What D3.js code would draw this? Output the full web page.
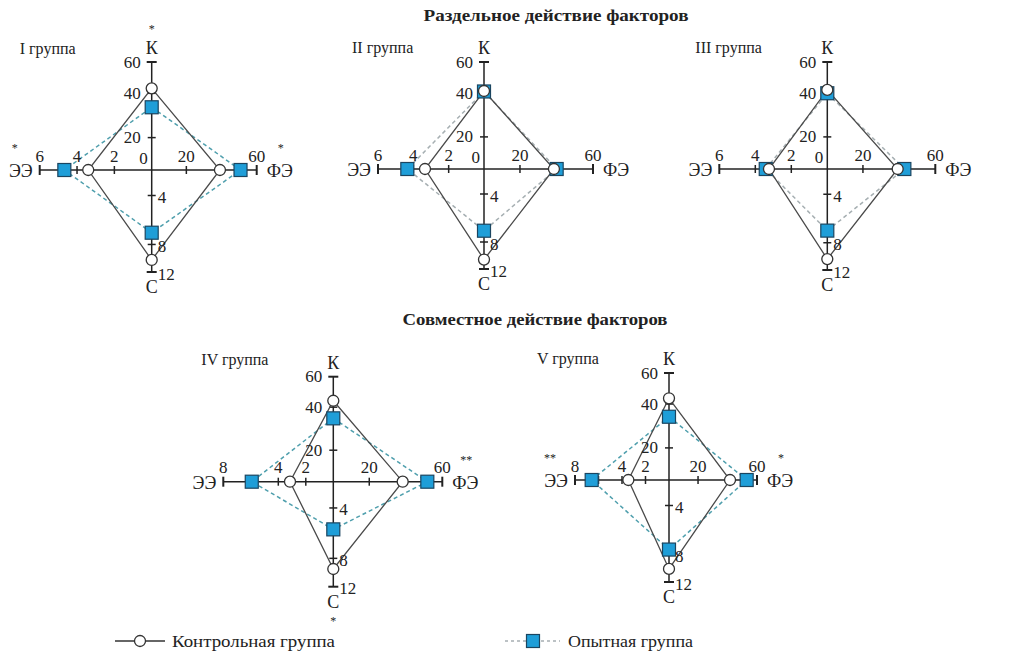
<!DOCTYPE html>
<html>
<head>
<meta charset="utf-8">
<script src="https://cdn.jsdelivr.net/npm/d3@7"></script>
<style>
  body { margin: 0; background: #fff; }
  svg text { font-family: "Liberation Serif", "DejaVu Serif", "Times New Roman", serif; fill: #222; }
</style>
</head>
<body>
<svg id="chart" width="1016" height="664" font-family="Liberation Serif, DejaVu Serif, serif"></svg>
<script>
// values, order of each row: К, ФЭ, С, ЭЭ
var groups = ["I группа", "II группа", "III группа", "IV группа", "V группа"];
var axisNames = ["К", "ФЭ", "С", "ЭЭ"];
var controlValues = [
  [43.2, 39.1, 10.25, 3.4],
  [41.3, 38.6, 10.6, 3.34],
  [42.0, 39.2, 10.4, 3.24],
  [44.2, 38.3, 9.5, 3.15],
  [43.7, 41.7, 10.1, 3.46]
];
var expValues = [
  [33.7, 50.8, 7.04, 4.68],
  [41.0, 40.1, 7.06, 4.34],
  [39.9, 42.9, 7.0, 3.42],
  [34.8, 51.8, 5.7, 5.93],
  [34.2, 53.0, 7.6, 6.58]
];
var eeMax = [6, 6, 6, 8, 8];
var stars = [
  ["*", "*", "", "*"],
  ["", "", "", ""],
  ["", "", "", ""],
  ["", "**", "*", ""],
  ["", "*", "", "**"]
];
var kTicks = [20, 40, 60];
var feTicks = [20, 40, 60];
var feLabels = [20, 60];
var sTicks = [4, 8, 12];
var eeTicks6 = [2, 4, 6];
var eeTicks8 = [2, 4, 6, 8];
var eeLabels8 = [2, 4, 8];
var titles = ["Раздельное действие факторов", "Совместное действие факторов"];
var legendNames = ["Контрольная группа", "Опытная группа"];

// where each little chart sits, arm lengths: top, right, bottom, left
var layout = [
  {cx: 151.7, cy: 170, len: [108, 105, 102, 112], dash: "#4f9fad"},
  {cx: 484, cy: 169, len: [107, 109, 100, 106], dash: "#a6afb2"},
  {cx: 827.3, cy: 169, len: [107, 108, 101, 108], dash: "#a6afb2"},
  {cx: 333.3, cy: 481.7, len: [105, 109, 105, 110], dash: "#4f9fad"},
  {cx: 669, cy: 480, len: [107, 88, 102, 94], dash: "#4f9fad"}
];

var svg = d3.select("#chart");
var blue = "#1f9ed8", navy = "#1b4560";
var serif = "'Liberation Serif', 'DejaVu Serif', serif";

function txt(sel, x, y, s, size, anchor) {
  return sel.append("text").attr("x", x).attr("y", y)
    .attr("text-anchor", anchor || "middle")
    .attr("dominant-baseline", "central")
    .style("font-family", serif)
    .style("font-size", size + "px")
    .text(s);
}

// titles
txt(svg, 556, 15, titles[0], 17).style("font-weight", "bold")
  .attr("textLength", 265).attr("lengthAdjust", "spacingAndGlyphs");
txt(svg, 535, 319, titles[1], 17).style("font-weight", "bold")
  .attr("textLength", 265).attr("lengthAdjust", "spacingAndGlyphs");

layout.forEach(function(lay, i) {
  var len = lay.len;
  var g = svg.append("g").attr("transform", "translate(" + lay.cx + "," + lay.cy + ")");

  // the scan's ticks are not evenly spaced, so the scales are piecewise
  var kScale = d3.scaleLinear().domain([0, 20, 40, 60]).range([0, 0.3, 0.71, 1].map(function(f) { return f * len[0]; }));
  var feScale = d3.scaleLinear().domain([0, 20, 60]).range([0, 0.33, 1].map(function(f) { return f * len[1]; }));
  var sScale = d3.scaleLinear().domain([0, 4, 8, 12]).range([0, 0.25, 0.73, 1].map(function(f) { return f * len[2]; }));
  var eeScale = d3.scaleLinear().domain([0, eeMax[i]]).range([0, len[3]]);
  var eeTicks = eeMax[i] == 8 ? eeTicks8 : eeTicks6;
  var eeLabels = eeMax[i] == 8 ? eeLabels8 : eeTicks6;

  function pts(v) {
    return [[0, -kScale(v[0])], [feScale(v[1]), 0], [0, sScale(v[2])], [-eeScale(v[3]), 0]];
  }

  // axes
  g.append("line").attr("x1", -len[3]).attr("x2", len[1]).attr("y1", 0).attr("y2", 0)
    .attr("stroke", "#222").attr("stroke-width", 1.5);
  g.append("line").attr("x1", 0).attr("x2", 0).attr("y1", -len[0]).attr("y2", len[2])
    .attr("stroke", "#222").attr("stroke-width", 1.5);

  // ticks
  kTicks.forEach(function(t) {
    var w = t == 60 ? 5 : 4;
    g.append("line").attr("x1", -w).attr("x2", w).attr("y1", -kScale(t)).attr("y2", -kScale(t))
      .attr("stroke", "#222").attr("stroke-width", t == 60 ? 2 : 1.5);
  });
  feTicks.forEach(function(t) {
    var w = t == 60 ? 5 : 4;
    g.append("line").attr("y1", -w).attr("y2", w).attr("x1", feScale(t)).attr("x2", feScale(t))
      .attr("stroke", "#222").attr("stroke-width", t == 60 ? 2 : 1.5);
  });
  sTicks.forEach(function(t) {
    var w = t == 12 ? 5 : 4;
    g.append("line").attr("x1", -w).attr("x2", w).attr("y1", sScale(t)).attr("y2", sScale(t))
      .attr("stroke", "#222").attr("stroke-width", t == 12 ? 2 : 1.5);
  });
  eeTicks.forEach(function(t) {
    var w = t == eeMax[i] ? 5 : 4;
    g.append("line").attr("y1", -w).attr("y2", w).attr("x1", -eeScale(t)).attr("x2", -eeScale(t))
      .attr("stroke", "#222").attr("stroke-width", t == eeMax[i] ? 2 : 1.5);
  });

  // polygons
  var lineGen = d3.line().curve(d3.curveLinearClosed);
  g.append("path").attr("d", lineGen(pts(expValues[i]))).attr("fill", "none")
    .attr("stroke", lay.dash).attr("stroke-width", 1.5).attr("stroke-dasharray", "4,3");
  g.append("path").attr("d", lineGen(pts(controlValues[i]))).attr("fill", "none")
    .attr("stroke", "#4a4a4a").attr("stroke-width", 1.3);

  g.selectAll(".sq").data(pts(expValues[i])).enter().append("rect")
    .attr("x", function(d) { return d[0] - 6.5; })
    .attr("y", function(d) { return d[1] - 6.5; })
    .attr("width", 13).attr("height", 13)
    .attr("fill", blue).attr("stroke", navy).attr("stroke-width", 1.2);
  g.selectAll(".ci").data(pts(controlValues[i])).enter().append("circle")
    .attr("cx", function(d) { return d[0]; })
    .attr("cy", function(d) { return d[1]; })
    .attr("r", 5.5).attr("fill", "#fff").attr("stroke", "#333").attr("stroke-width", 1.3);

  // tick labels
  kTicks.forEach(function(t) { txt(g, -11, -kScale(t), t, 17, "end"); });
  feLabels.forEach(function(t) { txt(g, feScale(t), -14, t, 17); });
  sTicks.forEach(function(t) { txt(g, 6, sScale(t) + 2, t, 17, "start"); });
  eeLabels.forEach(function(t) { txt(g, -eeScale(t), -14, t, 17); });
  if (i < 3) txt(g, -4, -12, 0, 17, "end");

  // axis names
  txt(g, 0, -len[0] - 14, axisNames[0], 18);
  txt(g, len[1] + 10, 1, axisNames[1], 18, "start");
  txt(g, 0, len[2] + 15, axisNames[2], 18);
  txt(g, -len[3] - 7, 1, axisNames[3], 18, "end");

  // significance marks, kept clear of the axis names
  var starPos = [[0, -len[0] - 33], [len[1] + 24, -22], [0, len[2] + 34], [-len[3] - 25, -22]];
  stars[i].forEach(function(s, j) {
    if (!s) return;
    txt(g, starPos[j][0], starPos[j][1], s, 12);
  });

  // group name
  txt(g, -132, -122, groups[i], 16, "start");
});

// legend
var lg = svg.append("g");
lg.append("line").attr("x1", 115).attr("x2", 165).attr("y1", 641).attr("y2", 641)
  .attr("stroke", "#333").attr("stroke-width", 1.5);
lg.append("circle").attr("cx", 140).attr("cy", 641).attr("r", 5.5)
  .attr("fill", "#fff").attr("stroke", "#333").attr("stroke-width", 1.3);
txt(lg, 172, 641, legendNames[0], 17, "start")
  .attr("textLength", 163).attr("lengthAdjust", "spacingAndGlyphs");
lg.append("line").attr("x1", 505).attr("x2", 560).attr("y1", 641).attr("y2", 641)
  .attr("stroke", "#a6afb2").attr("stroke-width", 1.5).attr("stroke-dasharray", "3,3");
lg.append("rect").attr("x", 526.5).attr("y", 634.5).attr("width", 13).attr("height", 13)
  .attr("fill", blue).attr("stroke", navy).attr("stroke-width", 1.2);
txt(lg, 568, 641, legendNames[1], 17, "start")
  .attr("textLength", 125).attr("lengthAdjust", "spacingAndGlyphs");
</script>
</body>
</html>
